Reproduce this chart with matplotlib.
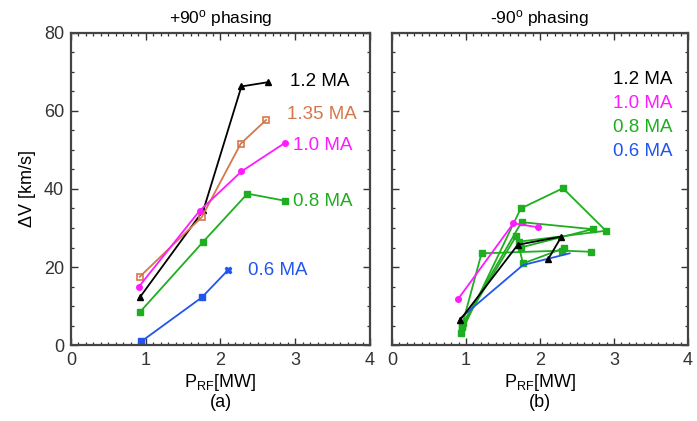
import matplotlib
matplotlib.use("Agg")
import matplotlib.pyplot as plt
from matplotlib.ticker import MultipleLocator

plt.rcParams['font.family'] = ['Liberation Sans', 'DejaVu Sans']
plt.rcParams['mathtext.default'] = 'regular'

# ---- +90 deg phasing: velocity change vs RF power, per plasma current ----
p90_12_x = [0.92, 1.77, 2.28, 2.64]
p90_12_y = [12.2, 34.5, 66.3, 67.4]
p90_135_x = [0.92, 1.75, 2.27, 2.61]
p90_135_y = [17.5, 32.8, 51.6, 57.7]
p90_10_x = [0.91, 1.72, 2.28, 2.86]
p90_10_y = [15.0, 34.4, 44.5, 51.8]
p90_08_x = [0.92, 1.76, 2.36, 2.86]
p90_08_y = [8.4, 26.3, 38.8, 37.0]
p90_06_x = [0.94, 1.75, 2.10]
p90_06_y = [0.9, 12.2, 19.2]

# ---- -90 deg phasing ----
m90_12_x = [0.92, 1.70, 2.29, 2.11]
m90_12_y = [6.4, 25.7, 27.8, 22.0]
m90_10_x = [0.89, 1.64, 1.97]
m90_10_y = [11.7, 31.2, 30.2]
m90_06_x = [0.92, 1.77, 2.40]
m90_06_y = [6.8, 20.5, 23.5]
# 0.8 MA shots (several scans)
m90_08a_x = [0.93, 1.74, 2.31, 2.89, 1.72]
m90_08a_y = [3.0, 35.0, 40.2, 29.3, 26.5]
m90_08b_x = [0.96, 1.75, 2.71, 1.74]
m90_08b_y = [5.6, 31.5, 29.7, 25.0]
m90_08c_x = [0.94, 1.21, 2.30, 2.69]
m90_08c_y = [4.5, 23.5, 24.2, 23.9]
m90_08d_x = [0.95, 1.68, 1.77, 2.32]
m90_08d_y = [5.0, 28.0, 20.9, 24.8]

labels_p90 = ['1.2 MA', '1.35 MA', '1.0 MA', '0.8 MA', '0.6 MA']
labels_m90 = ['1.2 MA', '1.0 MA', '0.8 MA', '0.6 MA']

BLACK = '#000000'
ORANGE = '#d4784c'
MAGENTA = '#ff1aff'
GREEN = '#1fae1f'
BLUE = '#2255ee'

fig = plt.figure(figsize=(6.97, 4.21), dpi=100)
axL = fig.add_axes([71/697, 1-345/421, 299/697, 312/421])
axR = fig.add_axes([392/697, 1-345/421, 296/697, 312/421])

lw = 1.3
ms = 4.0

# left panel
axL.plot(p90_12_x, p90_12_y, '-^', color=BLACK, lw=lw, ms=ms)
axL.plot(p90_135_x, p90_135_y, '-s', color=ORANGE, lw=lw, ms=ms, mfc='none', mew=1.2)
axL.plot(p90_10_x, p90_10_y, '-o', color=MAGENTA, lw=lw, ms=ms)
axL.plot(p90_08_x, p90_08_y, '-s', color=GREEN, lw=lw, ms=ms)
axL.plot(p90_06_x[:-1], p90_06_y[:-1], 's', color=BLUE, ms=ms)
axL.plot(p90_06_x, p90_06_y, '-', color=BLUE, lw=lw)
axL.plot(p90_06_x[-1:], p90_06_y[-1:], 'X', color=BLUE, ms=ms + 1)

lab_cfg = [(2.93, 67.6, BLACK), (2.89, 59.0, ORANGE), (2.97, 51.2, MAGENTA),
           (2.97, 36.8, GREEN), (2.37, 19.0, BLUE)]
for txt, (x, y, c) in zip(labels_p90, lab_cfg):
    axL.text(x, y, txt, color=c, fontsize=13.5, va='center', ha='left')

# right panel
for xs, ys in [(m90_08a_x, m90_08a_y), (m90_08b_x, m90_08b_y),
               (m90_08c_x, m90_08c_y), (m90_08d_x, m90_08d_y)]:
    axR.plot(xs, ys, '-s', color=GREEN, lw=lw, ms=ms)
axR.plot(m90_06_x, m90_06_y, '-', color=BLUE, lw=lw)
axR.plot(m90_10_x, m90_10_y, '-o', color=MAGENTA, lw=lw, ms=ms)
axR.plot(m90_12_x, m90_12_y, '-^', color=BLACK, lw=lw, ms=ms)

lab_cfg_r = [(68.0, BLACK), (62.0, MAGENTA), (55.8, GREEN), (49.5, BLUE)]
for txt, (y, c) in zip(labels_m90, lab_cfg_r):
    axR.text(2.99, y, txt, color=c, fontsize=13.5, va='center', ha='left')

for ax, title, tag in [(axL, r'+90$^{o}$ phasing', '(a)'),
                       (axR, r'-90$^{o}$ phasing', '(b)')]:
    ax.set_xlim(0, 4)
    ax.set_ylim(0, 80)
    ax.xaxis.set_major_locator(MultipleLocator(1))
    ax.xaxis.set_minor_locator(MultipleLocator(0.1))
    ax.yaxis.set_major_locator(MultipleLocator(20))
    ax.yaxis.set_minor_locator(MultipleLocator(5))
    ax.tick_params(which='both', direction='in', top=True, right=True,
                   colors='#333333', labelcolor='#333333', labelsize=13)
    ax.tick_params(which='major', length=5, width=1.0, pad=5)
    ax.tick_params(which='minor', length=2.5, width=0.9)
    for s in ax.spines.values():
        s.set_color('#444444')
        s.set_linewidth(1.6)
    ax.set_title(title, fontsize=12.5, pad=7)
    ax.set_xlabel(r'$P_{RF}$[MW]' + '\n' + tag, fontsize=13, linespacing=1.1,
                  labelpad=2)

axR.tick_params(labelleft=False)
axL.set_ylabel(r'$\Delta$V [km/s]', fontsize=13, labelpad=4)

fig.savefig('out.png', dpi=100)
